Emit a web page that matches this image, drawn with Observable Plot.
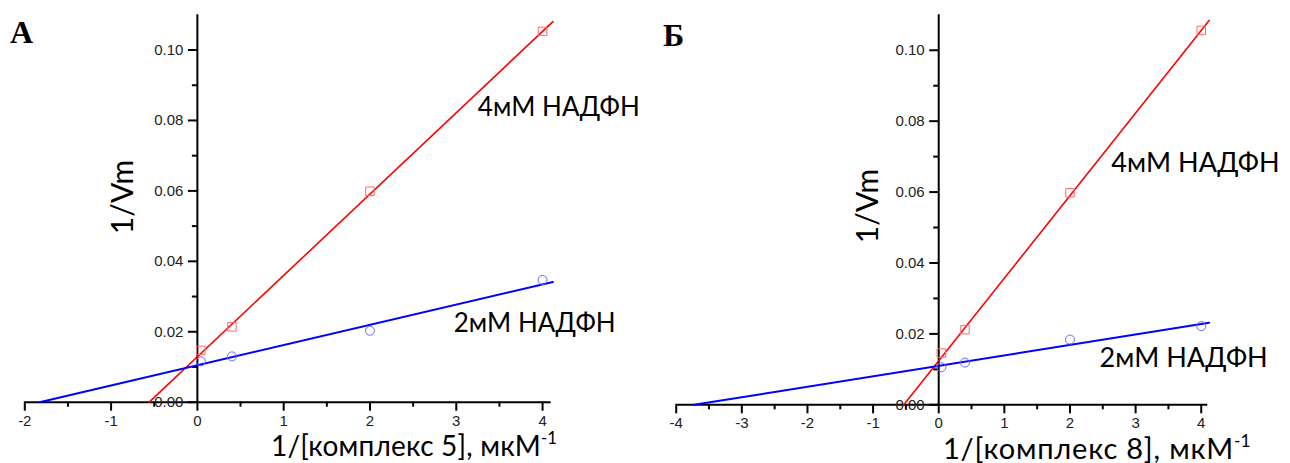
<!DOCTYPE html>
<html>
<head>
<meta charset="utf-8">
<script src="https://cdn.jsdelivr.net/npm/d3@7"></script>
<script src="https://cdn.jsdelivr.net/npm/@observablehq/plot@0.6"></script>
<style>
  body { margin: 0; background: #fff; }
  #wrap { display: flex; width: 1290px; height: 463px; }
  svg { display: block; }
</style>
</head>
<body>
<div id="wrap"></div>
<script>
// ---------- data ----------
const seriesNames = ["4мМ НАДФН", "2мМ НАДФН"];
const xValues = [0.04, 0.4, 2, 4];

// Panel A (комплекс 5)
const aRed  = [0.0147, 0.0214, 0.0599, 0.1053];
const aBlue = [0.0116, 0.0130, 0.0203, 0.0347];
const aFitSlope     = [0.0231, 0.00574];
const aFitIntercept = [0.0129, 0.0105];
const aLabelX = [3.25, 2.97];
const aLabelY = [0.0814, 0.0199];
const aXTicks = [-2, -1, 0, 1, 2, 3, 4];
const aXMinor = [-1.5, -0.5, 0.5, 1.5, 2.5, 3.5];

// Panel Б (комплекс 8)
const bRed  = [0.0146, 0.0212, 0.0598, 0.1056];
const bBlue = [0.0106, 0.0119, 0.0184, 0.0222];
const bFitSlope     = [0.0233, 0.00295];
const bFitIntercept = [0.0124, 0.0110];
const bLabelX = [2.63, 2.45];
const bLabelY = [0.0657, 0.0106];
const bXTicks = [-4, -3, -2, -1, 0, 1, 2, 3, 4];
const bXMinor = [-3.5, -2.5, -1.5, -0.5, 0.5, 1.5, 2.5, 3.5];

const fitEnd = 4.12;
const yTicks = [0, 0.02, 0.04, 0.06, 0.08, 0.10];
const yMinor = [0.01, 0.03, 0.05, 0.07, 0.09];
const yDomain = [0, 0.11];

// ---------- drawing ----------
const LINE_COLORS = ["#ff0000", "#0000ff"];
const DOT_COLORS = ["#ff6a6a", "#6a6aff"];
const LABEL_FONT = "Lato, 'Open Sans', sans-serif";
const TICK_FONT = "'Liberation Sans', Arial, sans-serif";

function panel(cfg) {
  const W = 645, H = 463;
  const innerW = W - cfg.ml - cfg.mr;
  const xd = cfg.xDomain;
  const zeroOffset = (0 - xd[0]) / (xd[1] - xd[0]) * innerW;

  const marks = [
    Plot.ruleY([0], {stroke: "#000", strokeWidth: 2}),
    Plot.ruleX([0], {stroke: "#000", strokeWidth: 2}),
    Plot.axisX({anchor: "bottom", ticks: cfg.xTicks, tickSize: 9, tickPadding: 4,
      stroke: "#000", strokeWidth: 2, fill: "#222", fontSize: 15, label: null,
      tickFormat: d => String(d).replace("−", "-")}),
    Plot.axisX({anchor: "bottom", ticks: cfg.xMinor, tickSize: 5, stroke: "#000",
      strokeWidth: 2, fill: "none", label: null}),
    Plot.axisY({anchor: "left", ticks: yTicks, tickSize: 9, tickPadding: 5, dx: zeroOffset,
      stroke: "#000", strokeWidth: 2, fill: "#222", fontSize: 15, label: null,
      tickFormat: d3.format(".2f")}),
    Plot.axisY({anchor: "left", ticks: yMinor, tickSize: 5, dx: zeroOffset,
      stroke: "#000", strokeWidth: 2, fill: "none", label: null})
  ];

  cfg.values.forEach((vals, i) => {
    const slope = cfg.slope[i], icpt = cfg.intercept[i];
    const xStart = -icpt / slope;
    const fit = [xStart, fitEnd].map(x => ({x, y: icpt + slope * x}));
    marks.push(Plot.line(fit, {x: "x", y: "y", stroke: LINE_COLORS[i], strokeWidth: i === 0 ? 1.6 : 2}));
    const pts = xValues.map((x, j) => ({x, y: vals[j]}));
    marks.push(Plot.dot(pts, {x: "x", y: "y", symbol: i === 0 ? "square" : "circle",
      r: i === 0 ? 4.8 : 4.5, stroke: DOT_COLORS[i], strokeWidth: 1, fill: "none"}));
  });

  const labels = seriesNames.map((t, i) => ({t, x: cfg.labelX[i], y: cfg.labelY[i]}));
  marks.push(Plot.text(labels, {x: "x", y: "y", text: "t", textAnchor: "start",
    lineAnchor: "bottom", fontSize: cfg.labelSize, fontFamily: LABEL_FONT, fill: "#000"}));

  const svg = Plot.plot({
    width: W, height: H,
    marginLeft: cfg.ml, marginRight: cfg.mr, marginTop: cfg.mt, marginBottom: cfg.mb,
    x: {domain: xd},
    y: {domain: yDomain},
    style: {fontFamily: TICK_FONT, fontSize: "15px", background: "white", overflow: "visible"},
    marks
  });

  const s = d3.select(svg);
  // panel letter
  s.append("text").attr("x", cfg.letterX).attr("y", cfg.letterY)
    .attr("text-anchor", "start")
    .attr("font-family", "'Liberation Serif', 'Times New Roman', serif")
    .attr("font-weight", "bold").attr("font-size", 32).attr("fill", "#000")
    .text(cfg.letter);
  // y axis title
  s.append("text")
    .attr("transform", `translate(${cfg.yTitleX},${cfg.yTitleY}) rotate(-90)`)
    .attr("text-anchor", "middle").attr("dominant-baseline", "middle")
    .attr("font-family", LABEL_FONT).attr("font-size", cfg.yTitleSize).attr("fill", "#000")
    .text("1/Vm");
  // x axis title with superscript
  const t = s.append("text").attr("x", cfg.xTitleX).attr("y", cfg.xTitleY)
    .attr("text-anchor", "start").attr("font-family", LABEL_FONT)
    .attr("font-size", cfg.xTitleSize).attr("fill", "#000");
  t.append("tspan").attr("letter-spacing", cfg.xTitleSpacing).text(cfg.xTitle);
  t.append("tspan").attr("font-size", "0.6em").attr("dy", "-0.7em").text("-1");
  return svg;
}

const wrap = document.getElementById("wrap");
wrap.appendChild(panel({
  letter: "A", letterX: 10, letterY: 43,
  xDomain: [-2, 4.1], ml: 24.3, mr: 94.3, mt: 14.3, mb: 61.3,
  xTicks: aXTicks, xMinor: aXMinor,
  values: [aRed, aBlue], slope: aFitSlope, intercept: aFitIntercept,
  labelX: aLabelX, labelY: aLabelY, labelSize: 26,
  yTitleX: 125, yTitleY: 197, yTitleSize: 30,
  xTitle: "1/[комплекс 5], мкМ", xTitleX: 271, xTitleY: 456, xTitleSize: 28, xTitleSpacing: 0.2
}));
wrap.appendChild(panel({
  letter: "Б", letterX: 18, letterY: 46,
  xDomain: [-4, 4.1], ml: 30.7, mr: 82.7, mt: 14.3, mb: 58.7,
  xTicks: bXTicks, xMinor: bXMinor,
  values: [bRed, bBlue], slope: bFitSlope, intercept: bFitIntercept,
  labelX: bLabelX, labelY: bLabelY, labelSize: 27,
  yTitleX: 225, yTitleY: 206, yTitleSize: 30,
  xTitle: "1/[комплекс 8], мкМ", xTitleX: 298, xTitleY: 459, xTitleSize: 29, xTitleSpacing: 0.8
}));
</script>
</body>
</html>
